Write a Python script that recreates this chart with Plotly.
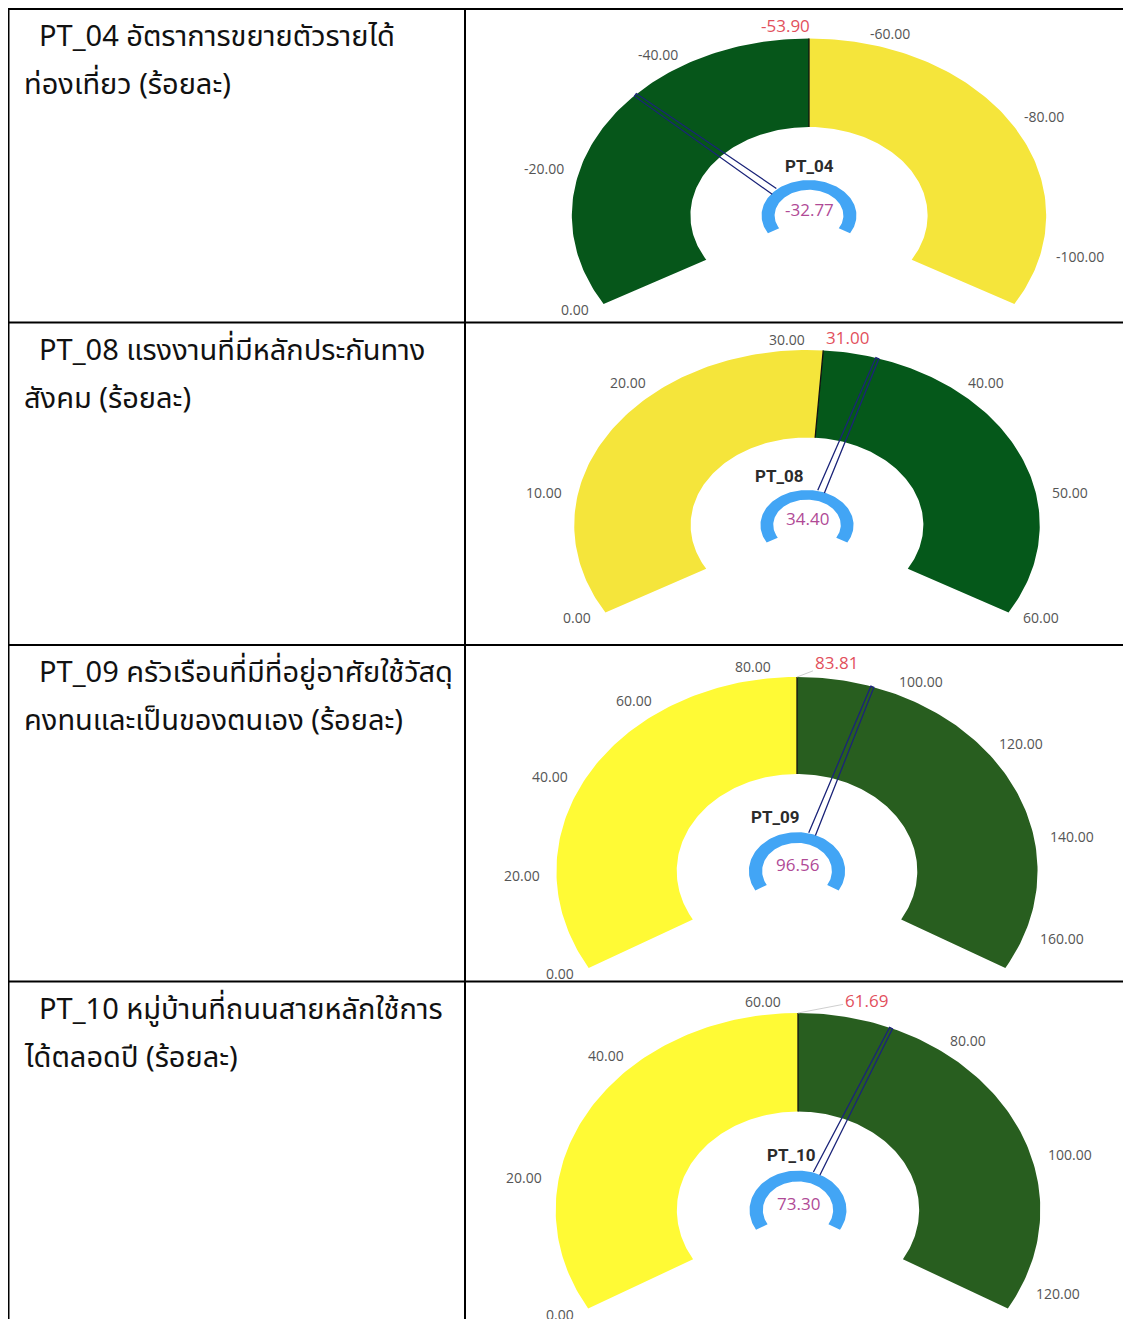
import numpy as np
import plotly.graph_objects as go

PAGE_W, PAGE_H = 1131, 1319
OFF = 8                      # default page margin of the html body
W, H = PAGE_W - OFF, PAGE_H - OFF

# ---------------- data ----------------
codes = ["PT_04", "PT_08", "PT_09", "PT_10"]
title_line1 = [
    "PT_04 อัตราการขยายตัวรายได้",
    "PT_08 แรงงานที่มีหลักประกันทาง",
    "PT_09 ครัวเรือนที่มีที่อยู่อาศัยใช้วัสดุ",
    "PT_10 หมู่บ้านที่ถนนสายหลักใช้การ",
]
title_line2 = [
    "ท่องเที่ยว (ร้อยละ)",
    "สังคม (ร้อยละ)",
    "คงทนและเป็นของตนเอง (ร้อยละ)",
    "ได้ตลอดปี (ร้อยละ)",
]
gauge_min = [0.0, 0.0, 0.0, 0.0]
gauge_max = [-107.80, 60.00, 167.62, 123.38]
targets = [-53.90, 31.00, 83.81, 61.69]
values = [-32.77, 34.40, 96.56, 73.30]
tick_values = [
    [0, -20, -40, -60, -80, -100],
    [0, 10, 20, 30, 40, 50, 60],
    [0, 20, 40, 60, 80, 100, 120, 140, 160],
    [0, 20, 40, 60, 80, 100, 120],
]

# ---------------- style / layout (page pixel positions) ----------------
low_colors = ["#06561A", "#F5E53B", "#FFFA35", "#FFFA35"]    # min -> target
high_colors = ["#F5E53B", "#05581A", "#285E1F", "#285E1F"]   # target -> max
centers = [(809, 215.5), (807, 525), (797, 871), (798, 1210)]
radii = [177, 175, 194, 197]
stretch = [1.34, 1.33, 1.24, 1.23]
cells_y = [(9, 322.5), (322.5, 645), (645, 981.5), (981.5, 1319)]
cell_x = (467, 1131)
name_dx = [0.0, -0.12, -0.09, -0.025]
target_offset = [(-24, -13), (24, -13), (39, -15), (68, -13)]
target_leader = [False, False, True, True]
HOLE = 0.5
BLUE_OUT, BLUE_IN = 0.20, 0.145
SWEEP_START, SWEEP = 210.0, 240.0

NUM_FONT = "Open Sans, Segoe UI, sans-serif"
THAI_FONT = "Noto Sans Thai, Loma, Garuda, Tlwg Typo, Noto Sans, sans-serif"


def fx(px):   # page x -> paper
    return (px - OFF) / W


def fy(py):   # page y -> paper
    return 1 - (py - OFF) / H


fig = go.Figure()


def ang(v, g):
    return np.radians(SWEEP_START - (v - gauge_min[g]) / (gauge_max[g] - gauge_min[g]) * SWEEP)


def ring(a0, a1, r0, r1, n=120):
    t = np.linspace(a0, a1, n)
    xs = np.concatenate([r1 * np.cos(t), r0 * np.cos(t[::-1])])
    ys = np.concatenate([r1 * np.sin(t), r0 * np.sin(t[::-1])])
    return np.append(xs, xs[0]), np.append(ys, ys[0])


annotations = []
shapes = []

for g in range(4):
    k = "" if g == 0 else str(g + 1)
    xa, ya = "x" + k, "y" + k
    cx, cy = centers[g]
    R, s = radii[g], stretch[g]
    y0, y1 = cells_y[g]
    fig.layout["xaxis" + k] = dict(
        domain=[fx(cell_x[0]), min(1.0, fx(cell_x[1]))],
        range=[(cell_x[0] - cx) / (s * R), (cell_x[1] - cx) / (s * R)],
        visible=False, fixedrange=True,
    )
    fig.layout["yaxis" + k] = dict(
        domain=[max(0.0, fy(y1)), fy(y0)],
        range=[(cy - y1) / R, (cy - y0) / R],
        visible=False, fixedrange=True,
    )

    a_min, a_t, a_max = ang(gauge_min[g], g), ang(targets[g], g), ang(gauge_max[g], g)
    for (aa, bb, col) in [(a_min, a_t, low_colors[g]), (a_t, a_max, high_colors[g])]:
        xs, ys = ring(aa, bb, HOLE, 1.0)
        fig.add_trace(go.Scatter(x=xs, y=ys, xaxis=xa, yaxis=ya, mode="lines",
                                 fill="toself", fillcolor=col, line=dict(width=0, color=col),
                                 hoverinfo="skip", showlegend=False))
    # target boundary line
    fig.add_trace(go.Scatter(x=[HOLE * np.cos(a_t), np.cos(a_t)], y=[HOLE * np.sin(a_t), np.sin(a_t)],
                             xaxis=xa, yaxis=ya, mode="lines", line=dict(color="#111111", width=1.3),
                             hoverinfo="skip", showlegend=False))
    # blue centre arc
    xs, ys = ring(np.radians(SWEEP_START), np.radians(SWEEP_START - SWEEP), BLUE_IN, BLUE_OUT)
    fig.add_trace(go.Scatter(x=xs, y=ys, xaxis=xa, yaxis=ya, mode="lines", fill="toself",
                             fillcolor="#42A5F5", line=dict(width=0, color="#42A5F5"),
                             hoverinfo="skip", showlegend=False))
    # needle (tapered outline) computed in pixel space then converted to axis units
    a_v = ang(values[g], g)
    tip = np.array([s * R * np.cos(a_v), -R * np.sin(a_v)])
    base = tip * BLUE_OUT
    d = (tip - base) / np.linalg.norm(tip - base)
    p = np.array([-d[1], d[0]])
    wt, wb = 1.6, 3.6
    pts = [base + wb * p, tip + wt * p, tip - wt * p, base - wb * p]
    nx = [q[0] / (s * R) for q in pts]
    ny = [-q[1] / R for q in pts]
    fig.add_trace(go.Scatter(x=nx, y=ny, xaxis=xa, yaxis=ya, mode="lines",
                             line=dict(color="#1B2479", width=1.3),
                             hoverinfo="skip", showlegend=False))

    # tick labels
    for tv in tick_values[g]:
        a = ang(tv, g)
        annotations.append(dict(
            x=1.06 * np.cos(a), y=1.06 * np.sin(a), xref=xa, yref=ya,
            text=f"{tv:.2f}", showarrow=False,
            xanchor="right" if np.cos(a) < 1e-6 else "left", yanchor="middle",
            font=dict(family=NUM_FONT, size=14, color="#555555"),
        ))
    # target label
    ox, oy = target_offset[g]
    tdict = dict(x=np.cos(a_t), y=np.sin(a_t), xref=xa, yref=ya, text=f"{targets[g]:.2f}",
                 font=dict(family=NUM_FONT, size=17, color="#E2505C"))
    if target_leader[g]:
        tdict.update(showarrow=True, ax=ox, ay=oy, arrowhead=0, arrowwidth=1,
                     arrowcolor="#CFCFCF", standoff=0)
    else:
        tdict.update(showarrow=False, xshift=ox, yshift=-oy)
    annotations.append(tdict)
    # name label
    annotations.append(dict(x=name_dx[g], y=0.28, xref=xa, yref=ya, text=f"<b>{codes[g]}</b>",
                            showarrow=False, font=dict(family="Roboto, Noto Sans, sans-serif",
                                                       size=17, color="#2B2B2B")))
    # value label
    annotations.append(dict(x=0, y=0.035, xref=xa, yref=ya, text=f"{values[g]:.2f}",
                            showarrow=False, font=dict(family=NUM_FONT, size=17, color="#B04A96")))

    # row texts (left column)
    annotations.append(dict(x=fx(37), y=fy(y0 + 28), xref="paper", yref="paper",
                            text=title_line1[g], showarrow=False, xanchor="left", yanchor="middle",
                            font=dict(family=THAI_FONT, size=29, color="#111111")))
    annotations.append(dict(x=fx(22), y=fy(y0 + 76), xref="paper", yref="paper",
                            text=title_line2[g], showarrow=False, xanchor="left", yanchor="middle",
                            font=dict(family=THAI_FONT, size=29, color="#111111")))


# table grid
def hline(py):
    return dict(type="line", xref="paper", yref="paper", x0=fx(8), x1=1.0,
                y0=fy(py), y1=fy(py), line=dict(color="black", width=2))


def vline(px):
    return dict(type="line", xref="paper", yref="paper", x0=fx(px), x1=fx(px),
                y0=fy(9), y1=0, line=dict(color="black", width=2))


for py in [9, 322.5, 645, 981.5]:
    shapes.append(hline(py))
for px in [8.5, 465]:
    shapes.append(vline(px))

fig.update_layout(
    width=W, height=H, margin=dict(l=0, r=0, t=0, b=0),
    paper_bgcolor="white", plot_bgcolor="white",
    annotations=annotations, shapes=shapes, showlegend=False,
)

fig.write_html("out.html")
